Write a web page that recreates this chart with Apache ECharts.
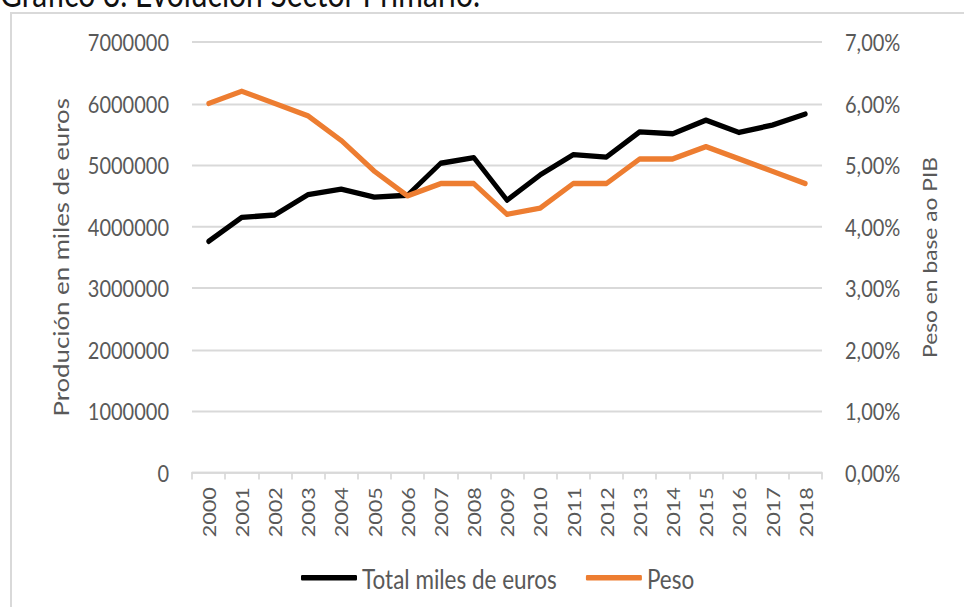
<!DOCTYPE html>
<html>
<head>
<meta charset="utf-8">
<script src="https://cdn.jsdelivr.net/npm/echarts@6/dist/echarts.min.js"></script>
<style>
  html, body { margin: 0; padding: 0; background: #fff; overflow: hidden; }
  #frame {
    position: absolute; left: 10px; top: 12px; width: 1000px; height: 700px;
    border: 2px solid #d9d9d9; box-sizing: border-box;
  }
  /* the source picture is stretched vertically, so draw flat and stretch */
  #chart {
    position: absolute; left: 0; top: 0; width: 964px; height: 506px;
    transform: scaleY(1.2); transform-origin: 0 0;
  }
</style>
</head>
<body>
<div id="frame"></div>
<div id="chart"></div>
<script>
// datos
const years = ['2000', '2001', '2002', '2003', '2004', '2005', '2006', '2007', '2008', '2009',
  '2010', '2011', '2012', '2013', '2014', '2015', '2016', '2017', '2018']
const totalMiles = [3760000, 4150000, 4190000, 4520000, 4610000, 4480000, 4510000, 5030000, 5120000, 4430000,
  4840000, 5170000, 5130000, 5540000, 5510000, 5730000, 5530000, 5650000, 5830000]
const peso = [6.0, 6.2, 6.0, 5.8, 5.4, 4.9, 4.5, 4.7, 4.7, 4.2,
  4.3, 4.7, 4.7, 5.1, 5.1, 5.3, 5.1, 4.9, 4.7]

const font = 'Lato'
const gris = '#595959'

const chart = echarts.init(document.getElementById('chart'), null, { renderer: 'svg' })

const option = {
  animation: false,
  title: {
    text: 'Gráfico 3. Evolución Sector Primario.',
    left: -5,
    top: -26,
    textStyle: { fontFamily: font, fontSize: 30, fontWeight: 'normal', color: '#111' }
  },
  legend: {
    orient: 'horizontal',
    left: 296,
    top: 465,
    itemWidth: 56,
    itemHeight: 4.5,
    itemGap: 29,
    icon: 'roundRect',
    textStyle: { fontFamily: font, fontSize: 22.5, color: gris },
    data: ['Total miles de euros', 'Peso']
  },
  grid: { left: 192, right: 142, top: 35, bottom: 112 },
  xAxis: {
    type: 'category',
    data: years,
    axisLine: { lineStyle: { color: '#d9d9d9', width: 1.7 } },
    axisTick: { show: true, length: 5.5, lineStyle: { color: '#d9d9d9', width: 1.7 } },
    axisLabel: { rotate: 90, margin: 12, fontFamily: font, fontSize: 18, color: gris }
  },
  yAxis: [
    {
      type: 'value',
      min: 0,
      max: 7000000,
      interval: 1000000,
      name: 'Produción en miles de euros',
      nameLocation: 'middle',
      nameGap: 120,
      nameMoveOverlap: false,
      nameTextStyle: { fontFamily: font, fontSize: 21.5, color: gris },
      axisLine: { show: false },
      axisTick: { show: false },
      axisLabel: {
        margin: 23, fontFamily: font, fontSize: 20, color: gris,
        formatter: v => String(v)
      },
      splitLine: { lineStyle: { color: '#d9d9d9', width: 1.7 } }
    },
    {
      type: 'value',
      min: 0,
      max: 7,
      interval: 1,
      name: 'Peso en base ao PIB',
      nameLocation: 'middle',
      nameGap: 98,
      nameMoveOverlap: false,
      nameTextStyle: { fontFamily: font, fontSize: 19, color: gris },
      axisLine: { show: false },
      axisTick: { show: false },
      axisLabel: {
        margin: 23, fontFamily: font, fontSize: 20, color: gris,
        formatter: v => v.toFixed(2).replace('.', ',') + '%'
      },
      splitLine: { show: false }
    }
  ],
  series: [
    {
      name: 'Total miles de euros',
      type: 'line',
      yAxisIndex: 0,
      data: totalMiles,
      symbol: 'none',
      lineStyle: { color: '#000000', width: 4.5, cap: 'round', join: 'round' },
      itemStyle: { color: '#000000' }
    },
    {
      name: 'Peso',
      type: 'line',
      yAxisIndex: 1,
      data: peso,
      symbol: 'none',
      lineStyle: { color: '#ED7D31', width: 4.5, cap: 'round', join: 'round' },
      itemStyle: { color: '#ED7D31' }
    }
  ]
}

chart.setOption(option)
</script>
</body>
</html>
